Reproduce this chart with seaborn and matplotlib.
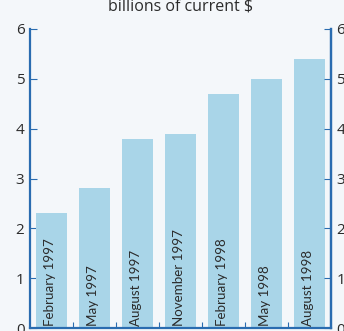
import matplotlib
matplotlib.use("Agg")
import matplotlib.pyplot as plt
import seaborn as sns
import pandas as pd
from matplotlib.ticker import FixedLocator

periods = ["February 1997", "May 1997", "August 1997", "November 1997",
           "February 1998", "May 1998", "August 1998"]
values = [2.3, 2.8, 3.8, 3.9, 4.7, 5.0, 5.4]
y_ticks = [0, 1, 2, 3, 4, 5, 6]

sns.set_theme(style="white")
plt.rcParams["font.family"] = ["Open Sans", "DejaVu Sans"]

bg = "#f4f7fa"
spine_col = "#2a6cb0"
bar_col = "#a9d5e8"
text_col = "#2b2b2b"

df = pd.DataFrame({"period": periods, "value": values})

fig = plt.figure(figsize=(3.44, 3.31), dpi=100, facecolor=bg)
ax = fig.add_axes([30 / 344, 3 / 331, 301 / 344, 299 / 331])
ax.set_facecolor(bg)

sns.barplot(data=df, x="period", y="value", color=bar_col, width=0.72,
            saturation=1, linewidth=0, ax=ax)

ax.set_ylim(0, 6)
ax.set_xlim(-0.5, len(periods) - 0.5)
ax.set_xlabel("")
ax.set_ylabel("")

ax.spines["top"].set_visible(False)
for sp in ["left", "right", "bottom"]:
    ax.spines[sp].set_color(spine_col)
    ax.spines[sp].set_linewidth(1.6)

ax.set_yticks(y_ticks)
ax.tick_params(axis="y", direction="in", length=5, width=0.8, color=spine_col,
               labelsize=11, labelcolor=text_col, pad=4, left=True)
ax.set_xticks([])
ax.xaxis.set_minor_locator(FixedLocator([i + 0.5 for i in range(len(periods) - 1)]))
ax.tick_params(axis="x", which="minor", direction="in", length=4, width=0.8,
               color=spine_col, bottom=True)

ax2 = ax.twinx()
ax2.set_ylim(0, 6)
ax2.set_yticks(y_ticks)
for sp in ["top", "left", "bottom"]:
    ax2.spines[sp].set_visible(False)
ax2.spines["right"].set_color(spine_col)
ax2.spines["right"].set_linewidth(1.6)
ax2.tick_params(axis="y", direction="in", length=5, width=0.8, color=spine_col,
                labelsize=11, labelcolor=text_col, pad=4)

# category names written up the inside of each bar
for patch, name in zip(ax.patches, periods):
    cx = patch.get_x() + patch.get_width() / 2
    ax.text(cx - 0.03, 0.05, name, rotation=90, ha="center", va="bottom",
            fontsize=9.6, color=text_col, family=["Lato", "DejaVu Sans"])

fig.text(181 / 344, 0.968, "billions of current $", ha="center", va="baseline",
         fontsize=11.5, color=text_col)

fig.savefig("out.png", dpi=100, facecolor=bg)
